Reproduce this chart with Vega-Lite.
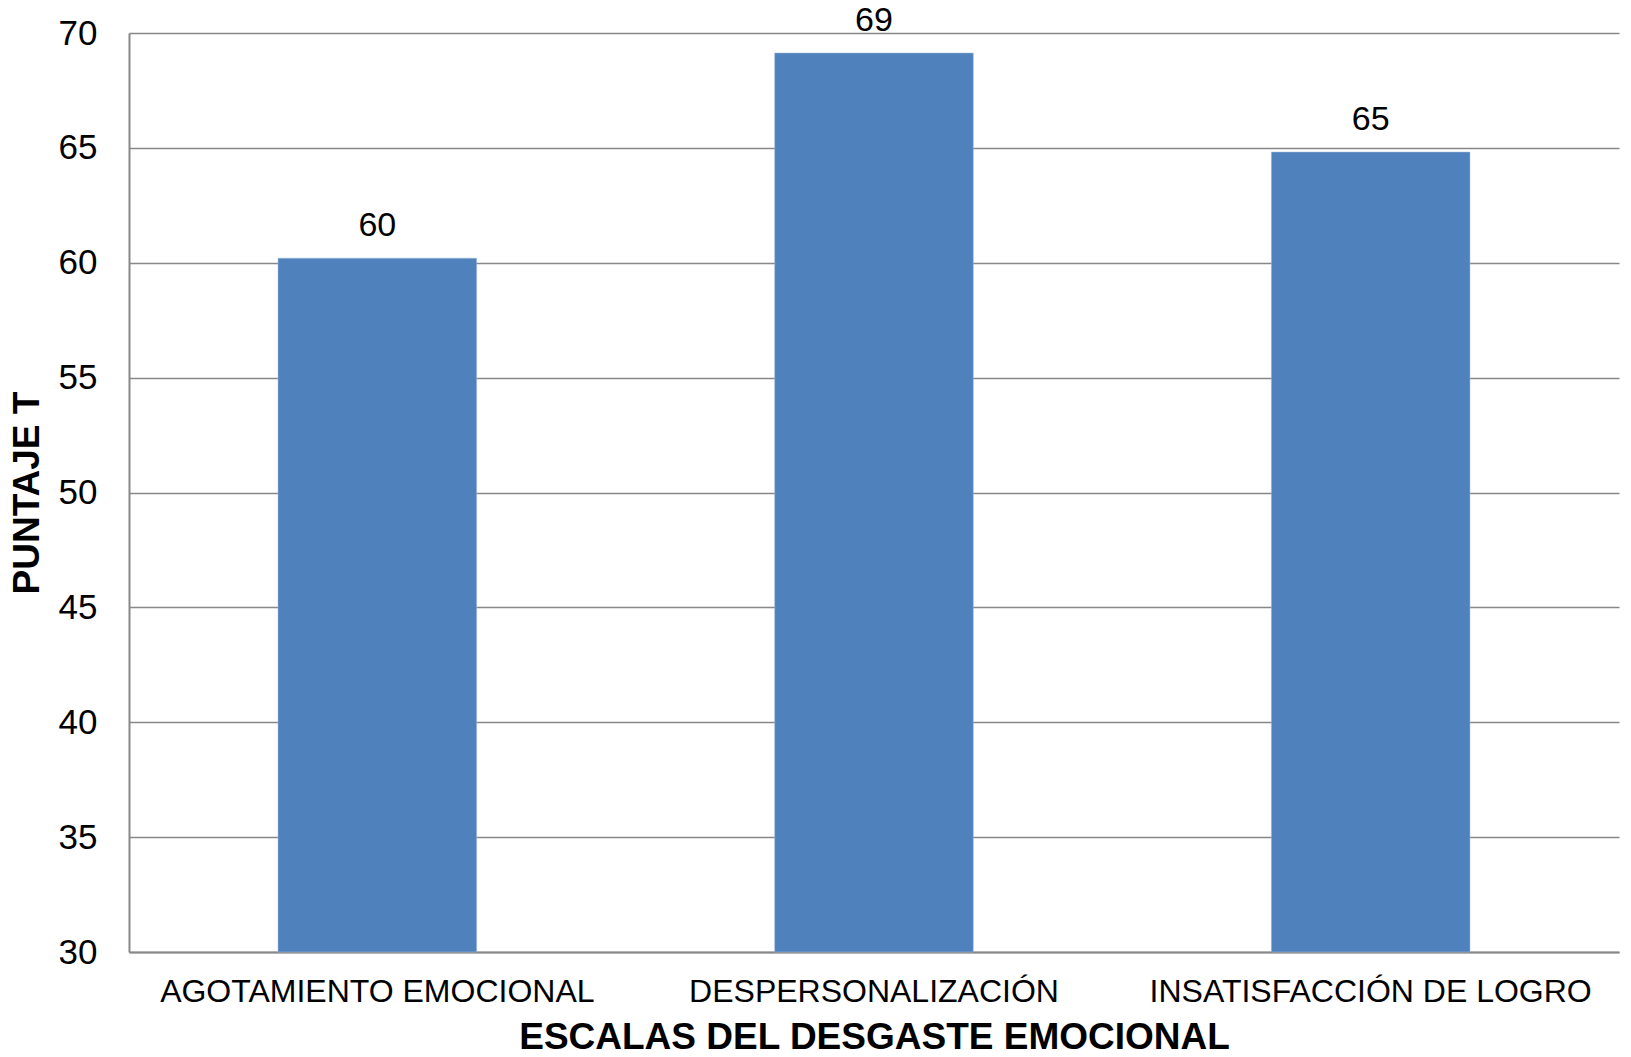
{
  "$schema": "https://vega.github.io/schema/vega-lite/v6.json",
  "width": 1490,
  "height": 919,
  "autosize": {"type": "none"},
  "padding": {"left": 129, "top": 33, "right": 12, "bottom": 105},
  "background": "white",
  "config": {
    "view": {"stroke": null},
    "font": "Liberation Sans"
  },
  "data": {
    "values": [
      {"escala": "AGOTAMIENTO EMOCIONAL", "puntaje": 60.2},
      {"escala": "DESPERSONALIZACIÓN", "puntaje": 69.13},
      {"escala": "INSATISFACCIÓN DE LOGRO", "puntaje": 64.82}
    ]
  },
  "encoding": {
    "x": {
      "field": "escala",
      "type": "nominal",
      "sort": null,
      "scale": {"paddingInner": 0.6, "paddingOuter": 0.3},
      "axis": {
        "title": "ESCALAS DEL DESGASTE EMOCIONAL",
        "titleFont": "Liberation Sans",
        "titleFontSize": 37,
        "titleFontWeight": "bold",
        "titleColor": "black",
        "titlePadding": 12,
        "labelAngle": 0,
        "labelFont": "Liberation Sans",
        "labelFontSize": 32,
        "labelLimit": 0,
        "labelColor": "black",
        "labelPadding": 24,
        "ticks": false,
        "domainColor": "#888888",
        "domainWidth": 2,
        "grid": false
      }
    },
    "y": {
      "field": "puntaje",
      "type": "quantitative",
      "scale": {"domain": [30, 70], "zero": false, "clamp": true},
      "axis": {
        "title": "PUNTAJE T",
        "titleFont": "Liberation Sans",
        "titleFontSize": 37,
        "titleFontWeight": "bold",
        "titleColor": "black",
        "titlePadding": 12,
        "values": [30, 35, 40, 45, 50, 55, 60, 65, 70],
        "labelFontSize": 35,
        "labelColor": "black",
        "labelPadding": 32,
        "ticks": false,
        "domainColor": "#888888",
        "domainWidth": 2,
        "grid": true,
        "gridColor": "#888888",
        "gridWidth": 1.5
      }
    }
  },
  "layer": [
    {
      "mark": {"type": "bar", "color": "#4F81BD", "stroke": "#A7BFDE", "strokeWidth": 0.5},
      "encoding": {"y2": {"datum": 30}}
    },
    {
      "mark": {"type": "text", "fontSize": 34, "color": "black", "dy": -32, "baseline": "middle"},
      "encoding": {"text": {"field": "puntaje", "type": "quantitative", "format": ".0f"}}
    }
  ]
}
